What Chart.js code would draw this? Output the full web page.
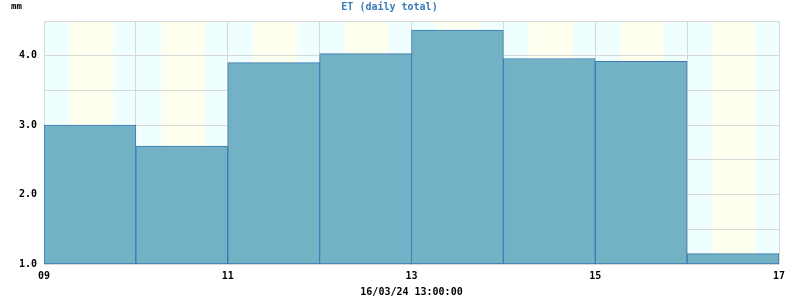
<!DOCTYPE html>
<html>
<head>
<meta charset="utf-8">
<script src="https://cdn.jsdelivr.net/npm/chart.js@4"></script>
<style>
  html, body { margin: 0; padding: 0; background: #fff; }
  #wrap { width: 800px; height: 300px; }
</style>
</head>
<body>
<div id="wrap"><canvas id="myChart"></canvas></div>
<script>
// day of month where each bar starts, and ET total for that day (mm)
const days = [9, 10, 11, 12, 13, 14, 15, 16];
const etTotals = [3.0, 2.70, 3.90, 4.03, 4.37, 3.96, 3.92, 1.15];
// daylight band (hours) for each day
const sunrise = [6.7, 6.7, 6.7, 6.6, 6.6, 6.6, 6.5, 6.5];
const sunset = [18.2, 18.2, 18.2, 18.1, 18.1, 18.1, 18.0, 18.0];
const xTickDays = [9, 11, 13, 15, 17];
const yTickLabels = [1.0, 2.0, 3.0, 4.0];

const mono = 'DejaVu Sans Mono, monospace';

// fondo: noche/día por día
const bandsPlugin = {
  id: 'bands',
  beforeDraw(chart) {
    const { ctx, chartArea, scales } = chart;
    const x = scales.x;
    ctx.save();
    days.forEach((d, i) => {
      const x0 = x.getPixelForValue(d);
      const x1 = x.getPixelForValue(d + 1);
      const xs = x.getPixelForValue(d + sunrise[i] / 24);
      const xe = x.getPixelForValue(d + sunset[i] / 24);
      ctx.fillStyle = '#efffff';
      ctx.fillRect(x0, chartArea.top, x1 - x0, chartArea.bottom - chartArea.top);
      ctx.fillStyle = '#fffff0';
      ctx.fillRect(xs, chartArea.top, xe - xs, chartArea.bottom - chartArea.top);
    });
    ctx.restore();
  },
  afterDraw(chart) {
    const { ctx } = chart;
    ctx.save();
    ctx.font = 'bold 9px ' + mono;
    ctx.fillStyle = '#000';
    ctx.textBaseline = 'alphabetic';
    ctx.fillText('mm', 11, 9);
    ctx.restore();
  }
};

const data = {
  datasets: [{
    label: 'ET',
    data: days.map((d, i) => ({ x: d + 0.5, y: [1.0, etTotals[i]] })),
    backgroundColor: '#73b1c5',
    borderColor: '#3b7ab5',
    borderWidth: 1,
    borderSkipped: false,
    barPercentage: 1,
    categoryPercentage: 1
  }]
};

const config = {
  type: 'bar',
  data: data,
  plugins: [bandsPlugin],
  options: {
    responsive: true,
    maintainAspectRatio: false,
    animation: false,
    layout: { padding: { left: 0, right: 21, top: 0, bottom: 0 } },
    plugins: {
      legend: { display: false },
      tooltip: { enabled: false },
      title: {
        display: true,
        text: 'ET (daily total)',
        color: '#3b7cb8',
        font: { family: mono, size: 10, weight: 'bold' },
        padding: { top: 1, bottom: 8 }
      }
    },
    scales: {
      x: {
        type: 'linear',
        min: 9,
        max: 17,
        offset: false,
        afterFit(scale) { scale.height = 36; },
        afterBuildTicks(scale) {
          scale.ticks = days.concat([17]).map(v => ({ value: v }));
        },
        ticks: {
          autoSkip: false,
          maxRotation: 0,
          padding: 6,
          color: '#000',
          font: { family: mono, size: 10, weight: 'bold' },
          callback: v => xTickDays.includes(v) ? String(v).padStart(2, '0') : ''
        },
        grid: { color: '#d8d8d8', offset: false, drawTicks: false },
        border: { display: false },
        title: {
          display: true,
          text: '16/03/24 13:00:00',
          color: '#000',
          font: { family: mono, size: 10, weight: 'bold' },
          padding: { top: 0, bottom: 2 }
        }
      },
      y: {
        min: 1.0,
        max: 4.5,
        afterFit(scale) { scale.width = 44; },
        ticks: {
          stepSize: 0.5,
          padding: 7,
          color: '#000',
          font: { family: mono, size: 10, weight: 'bold' },
          callback: v => yTickLabels.includes(v) ? v.toFixed(1) : ''
        },
        grid: { color: '#d8d8d8', drawTicks: false },
        border: { display: false }
      }
    }
  }
};

new Chart(document.getElementById('myChart').getContext('2d'), config);
</script>
</body>
</html>
